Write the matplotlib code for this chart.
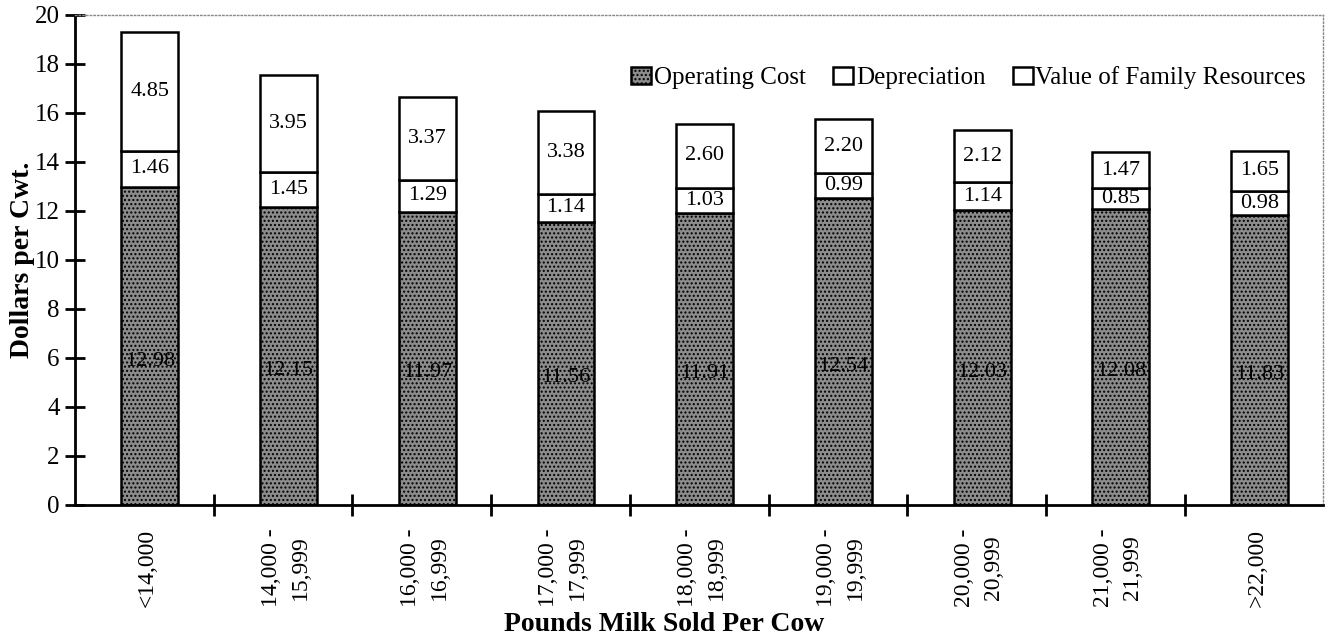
import matplotlib.pyplot as plt
import numpy as np

categories = ['<14,000', '14,000 -\n15,999', '16,000 -\n16,999', '17,000 -\n17,999',
              '18,000 -\n18,999', '19,000 -\n19,999', '20,000 -\n20,999',
              '21,000 -\n21,999', '>22,000']
operating = [12.98, 12.15, 11.97, 11.56, 11.91, 12.54, 12.03, 12.08, 11.83]
depreciation = [1.46, 1.45, 1.29, 1.14, 1.03, 0.99, 1.14, 0.85, 0.98]
family = [4.85, 3.95, 3.37, 3.38, 2.60, 2.20, 2.12, 1.47, 1.65]

plt.rcParams['font.family'] = ['Liberation Serif', 'DejaVu Serif']
plt.rcParams['hatch.color'] = '#555555'

fig = plt.figure(figsize=(13.28, 6.44), dpi=100)
ax = fig.add_axes([0.0565, 0.216, 0.94, 0.761])

x = np.arange(len(categories)) + 0.04
op = np.array(operating)
dep = np.array(depreciation)
fam = np.array(family)

ax.bar(x, op, width=0.41, color='#8c8c8c', edgecolor='black', linewidth=1.8,
       hatch='....', label='Operating Cost')
ax.bar(x, dep, width=0.41, bottom=op, color='white', edgecolor='black',
       linewidth=1.8, label='Depreciation')
ax.bar(x, fam, width=0.41, bottom=op + dep, color='white', edgecolor='black',
       linewidth=1.8, label='Value of Family Resources')

for i in range(len(categories)):
    ax.text(x[i], op[i] * 0.45, f'{operating[i]:.2f}', ha='center', va='center', fontsize=16)
    ax.text(x[i], op[i] + dep[i] / 2, f'{depreciation[i]:.2f}', ha='center', va='center', fontsize=16)
    ax.text(x[i], op[i] + dep[i] + fam[i] / 2, f'{family[i]:.2f}', ha='center', va='center', fontsize=16)

ax.set_xlim(-0.5, 8.5)
ax.set_ylim(0, 20)
ax.set_yticks(range(0, 21, 2))
ax.tick_params(axis='y', direction='inout', length=14, width=2, labelsize=18, pad=4)

# boundary ticks (major) and category labels (minor)
ax.set_xticks(np.arange(0.5, 8, 1))
ax.set_xticklabels([])
ax.tick_params(axis='x', which='major', direction='inout', length=16, width=2)
ax.set_xticks(np.arange(len(categories)) + 0.02, minor=True)
ax.set_xticklabels(categories, minor=True, rotation=90, fontsize=17, linespacing=1.5)
ax.tick_params(axis='x', which='minor', length=0, pad=17)
for lab in ax.get_xticklabels(minor=True):
    lab.set_multialignment('center')

ax.spines['left'].set_linewidth(2)
ax.spines['bottom'].set_linewidth(2)
for s in ['top', 'right']:
    ax.spines[s].set_color('#888888')
    ax.spines[s].set_linestyle(':')
    ax.spines[s].set_linewidth(1)

ax.set_ylabel('Dollars per Cwt.', fontsize=20, fontweight='bold', labelpad=0)
fig.text(0.5, 0.02, 'Pounds Milk Sold Per Cow', ha='center', fontsize=20, fontweight='bold')

ax.legend(loc='center right', bbox_to_anchor=(1.004, 0.872), ncol=3, frameon=False,
          fontsize=18, handlelength=0.8, handleheight=0.7, handletextpad=0.1,
          columnspacing=1.1)

fig.savefig('out.png', dpi=100)
